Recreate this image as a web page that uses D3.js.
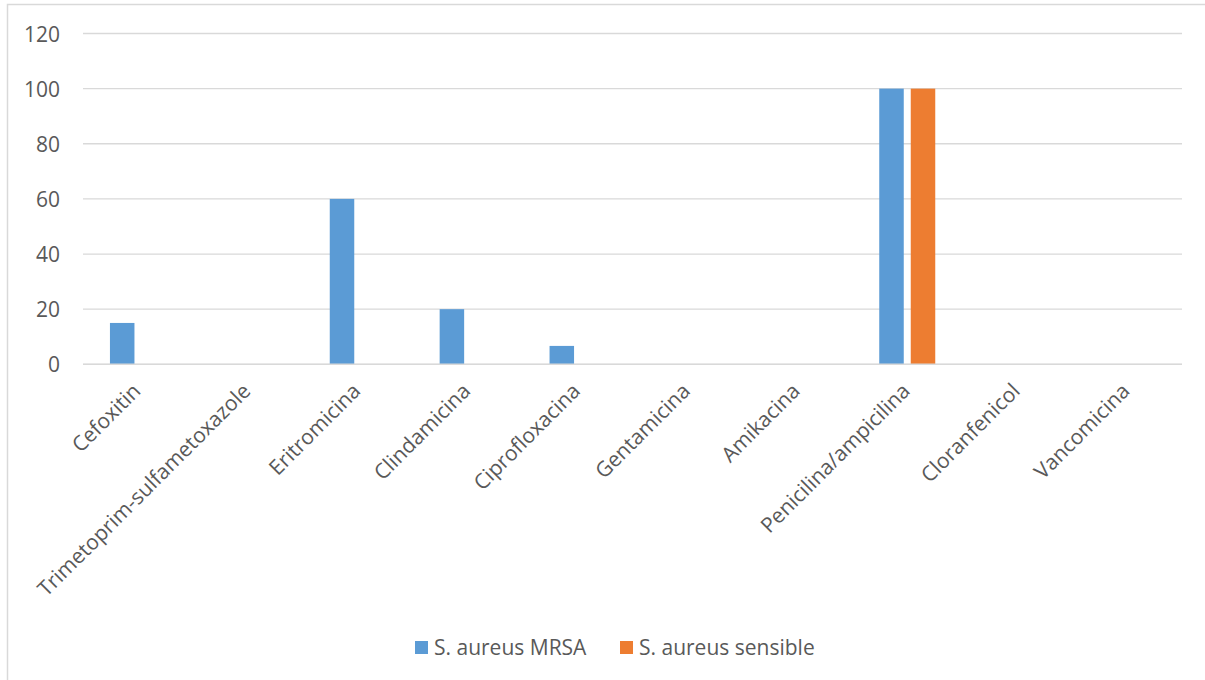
<!DOCTYPE html>
<html>
<head>
<meta charset="utf-8">
<script src="https://cdn.jsdelivr.net/npm/d3@7"></script>
<style>
  html, body { margin: 0; padding: 0; background: #fff; }
  svg { display: block; }
  text { font-family: "Open Sans", "Noto Sans", sans-serif; fill: #595959; }
</style>
</head>
<body>
<svg id="chart" width="1205" height="680"></svg>
<script>
// Antibiotics tested
const categories = [
  "Cefoxitin", "Trimetoprim-sulfametoxazole", "Eritromicina", "Clindamicina",
  "Ciprofloxacina", "Gentamicina", "Amikacina", "Penicilina/ampicilina",
  "Cloranfenicol", "Vancomicina"
];
// Resistance (%) per strain group
const seriesNames = ["S. aureus MRSA", "S. aureus sensible"];
const mrsa     = [15, 0, 60, 20, 6.67, 0, 0, 100, 0, 0];
const sensible = [0, 0, 0, 0, 0, 0, 0, 100, 0, 0];
const yTicks = [0, 20, 40, 60, 80, 100, 120];
const colors = ["#5b9bd5", "#ed7d31"];

const FONT = "\"Open Sans\", sans-serif";
const svg = d3.select("#chart");

// Outer chart frame
svg.append("rect")
  .attr("x", 7.5).attr("y", 4.5)
  .attr("width", 1210).attr("height", 690)
  .attr("fill", "none").attr("stroke", "#d9d9d9").attr("stroke-width", 1.5);

const plot = { left: 83, right: 1182, top: 33.5, bottom: 364.3 };

const x = d3.scaleBand().domain(categories).range([plot.left, plot.right]);
const x1 = d3.scaleBand().domain(seriesNames).range([-28, 28]).paddingInner(0.222);
const y = d3.scaleLinear().domain([0, 120]).range([plot.bottom, plot.top]);

// Horizontal gridlines
svg.append("g").selectAll("line").data(yTicks).join("line")
  .attr("x1", plot.left).attr("x2", plot.right)
  .attr("y1", d => y(d)).attr("y2", d => y(d))
  .attr("stroke", "#d9d9d9").attr("stroke-width", 1.3);

// Y axis labels
const yAxis = d3.axisLeft(y).tickValues(yTicks).tickSize(0).tickPadding(0);
const gy = svg.append("g").attr("transform", "translate(60,0)").call(yAxis);
gy.select(".domain").remove();
gy.selectAll("text")
  .attr("font-size", 21).attr("dy", "0.36em")
  .style("font-family", FONT).attr("fill", "#595959");

// Bars
const data = categories.map((c, i) => ({ cat: c, vals: [mrsa[i], sensible[i]] }));
const groups = svg.append("g").selectAll("g").data(data).join("g")
  .attr("transform", d => `translate(${x(d.cat) + x.bandwidth() / 2},0)`);
groups.selectAll("rect")
  .data(d => d.vals.map((v, k) => ({ name: seriesNames[k], v, k })))
  .join("rect")
  .attr("x", d => x1(d.name))
  .attr("width", x1.bandwidth())
  .attr("y", d => y(d.v))
  .attr("height", d => y(0) - y(d.v))
  .attr("fill", d => colors[d.k]);

// Baseline
svg.append("line")
  .attr("x1", plot.left).attr("x2", plot.right)
  .attr("y1", y(0)).attr("y2", y(0))
  .attr("stroke", "#d9d9d9").attr("stroke-width", 1.6);

// Category labels, rotated
const xAxis = d3.axisBottom(x).tickSize(0).tickPadding(0);
const gx = svg.append("g").attr("transform", `translate(0,${plot.bottom})`).call(xAxis);
gx.select(".domain").remove();
gx.selectAll("text")
  .attr("font-size", 21)
  .style("font-family", FONT).attr("fill", "#595959")
  .attr("text-anchor", "end")
  .attr("dy", 0).attr("y", 0)
  .attr("transform", "translate(4,28) rotate(-45)");

// Legend
const legend = svg.append("g").attr("transform", "translate(415,641)");
const items = [{ name: seriesNames[0], x: 0 }, { name: seriesNames[1], x: 205 }];
items.forEach((it, k) => {
  const g = legend.append("g").attr("transform", `translate(${it.x},0)`);
  g.append("rect").attr("width", 13).attr("height", 13).attr("fill", colors[k]);
  g.append("text").attr("x", 19).attr("y", 13.5).attr("font-size", 21).text(it.name);
});
</script>
</body>
</html>
